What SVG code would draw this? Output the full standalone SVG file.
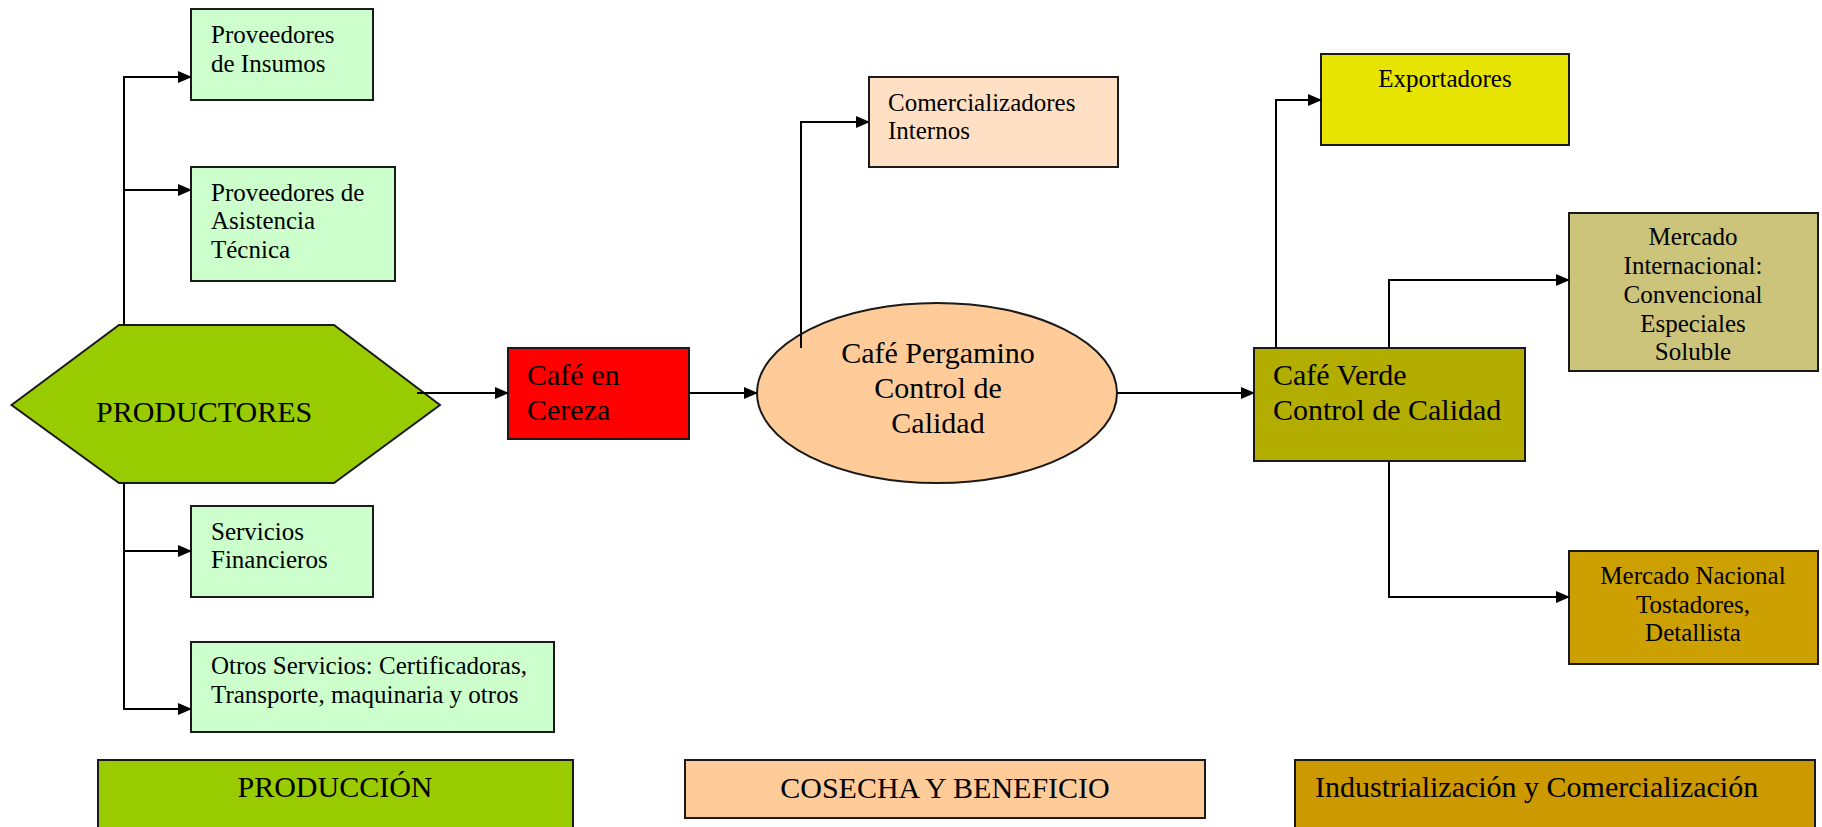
<svg xmlns="http://www.w3.org/2000/svg" width="1822" height="827" viewBox="0 0 1822 827">
<defs>
<style>
.box{stroke:#1a1a1a;stroke-width:2}
.t{font-family:"Liberation Serif","Times New Roman",serif;fill:#000}
.s{font-size:25px}
.l{font-size:30px}
.c{text-anchor:middle}
.conn{fill:none;stroke:#000;stroke-width:2}
</style>
<marker id="ah" markerWidth="14" markerHeight="12" refX="13" refY="6" orient="auto" markerUnits="userSpaceOnUse">
<path d="M0,0 L14,6 L0,12 z" fill="#000"/>
</marker>
</defs>
<rect width="1822" height="827" fill="#fff"/>

<g id="productores">
<polygon class="box" points="11.5,405 119,325 334,325 440,405 334,483 119,483" fill="#99CC00"/>
<text class="t l" x="96" y="422">PRODUCTORES</text>
</g>

<g id="prov-insumos">
<rect class="box" x="191" y="9" width="182" height="91" fill="#CCFFCC"/>
<text class="t s" x="211" y="43">Proveedores</text>
<text class="t s" x="211" y="72">de Insumos</text>
</g>

<g id="prov-asistencia">
<rect class="box" x="191" y="167" width="204" height="114" fill="#CCFFCC"/>
<text class="t s" x="211" y="201">Proveedores de</text>
<text class="t s" x="211" y="229">Asistencia</text>
<text class="t s" x="211" y="258">Técnica</text>
</g>

<g id="serv-financieros">
<rect class="box" x="191" y="506" width="182" height="91" fill="#CCFFCC"/>
<text class="t s" x="211" y="540">Servicios</text>
<text class="t s" x="211" y="568">Financieros</text>
</g>

<g id="otros-servicios">
<rect class="box" x="191" y="642" width="363" height="90" fill="#CCFFCC"/>
<text class="t s" x="211" y="674">Otros Servicios: Certificadoras,</text>
<text class="t s" x="211" y="703">Transporte, maquinaria y otros</text>
</g>

<g id="cafe-cereza">
<rect class="box" x="508" y="348" width="181" height="91" fill="#FF0000"/>
<text class="t l" x="527" y="385">Café en</text>
<text class="t l" x="527" y="420">Cereza</text>
</g>

<g id="cafe-pergamino">
<ellipse class="box" cx="937" cy="393" rx="180" ry="90" fill="#FFCC99"/>
<text class="t l c" x="938" y="363">Café Pergamino</text>
<text class="t l c" x="938" y="398">Control de</text>
<text class="t l c" x="938" y="433">Calidad</text>
</g>

<g id="comercializadores">
<rect class="box" x="869" y="77" width="249" height="90" fill="#FFE0C4"/>
<text class="t s" x="888" y="111">Comercializadores</text>
<text class="t s" x="888" y="139">Internos</text>
</g>

<g id="cafe-verde">
<rect class="box" x="1254" y="348" width="271" height="113" fill="#B3AD00"/>
<text class="t l" x="1273" y="385">Café Verde</text>
<text class="t l" x="1273" y="420">Control de Calidad</text>
</g>

<g id="exportadores">
<rect class="box" x="1321" y="54" width="248" height="91" fill="#E6E400"/>
<text class="t s c" x="1445" y="87">Exportadores</text>
</g>

<g id="mercado-internacional">
<rect class="box" x="1569" y="213" width="249" height="158" fill="#CCC47A"/>
<text class="t s c" x="1693" y="245">Mercado</text>
<text class="t s c" x="1693" y="274">Internacional:</text>
<text class="t s c" x="1693" y="303">Convencional</text>
<text class="t s c" x="1693" y="332">Especiales</text>
<text class="t s c" x="1693" y="360">Soluble</text>
</g>

<g id="mercado-nacional">
<rect class="box" x="1569" y="551" width="249" height="113" fill="#CCA000"/>
<text class="t s c" x="1693" y="584">Mercado Nacional</text>
<text class="t s c" x="1693" y="613">Tostadores,</text>
<text class="t s c" x="1693" y="641">Detallista</text>
</g>

<g id="produccion">
<rect class="box" x="98" y="760" width="475" height="80" fill="#99CC00"/>
<text class="t l c" x="335" y="797">PRODUCCIÓN</text>
</g>

<g id="cosecha">
<rect class="box" x="685" y="760" width="520" height="58" fill="#FFCC99"/>
<text class="t l c" x="945" y="798">COSECHA Y BENEFICIO</text>
</g>

<g id="industrializacion">
<rect class="box" x="1295" y="760" width="520" height="80" fill="#CC9900"/>
<text class="t l" x="1315" y="797">Industrialización y Comercialización</text>
</g>

<g id="connectors">
<polyline class="conn" points="124,325 124,77 191,77" marker-end="url(#ah)"/>
<polyline class="conn" points="124,190 191,190" marker-end="url(#ah)"/>
<polyline class="conn" points="124,483 124,709 191,709" marker-end="url(#ah)"/>
<polyline class="conn" points="124,551 191,551" marker-end="url(#ah)"/>
<polyline class="conn" points="417,393 508,393" marker-end="url(#ah)"/>
<polyline class="conn" points="689,393 757,393" marker-end="url(#ah)"/>
<polyline class="conn" points="801,348 801,122 869,122" marker-end="url(#ah)"/>
<polyline class="conn" points="1117,393 1254,393" marker-end="url(#ah)"/>
<polyline class="conn" points="1276,348 1276,100 1321,100" marker-end="url(#ah)"/>
<polyline class="conn" points="1389,348 1389,280 1569,280" marker-end="url(#ah)"/>
<polyline class="conn" points="1389,461 1389,597 1569,597" marker-end="url(#ah)"/>
</g>
</svg>
